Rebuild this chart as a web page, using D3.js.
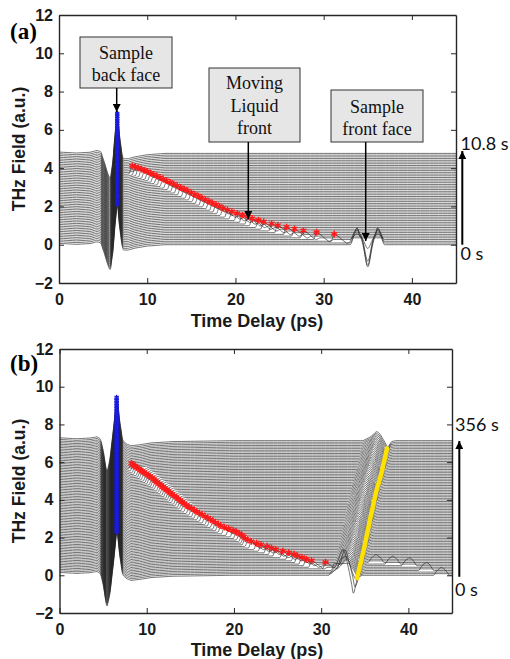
<!DOCTYPE html>
<html>
<head>
<meta charset="utf-8">
<script src="https://cdn.jsdelivr.net/npm/d3@7"></script>
<style>
  body { margin: 0; background: #fff; }
</style>
</head>
<body>
<div id="chart"></div>
<script>
// ---------- values ----------
const xTicks = [0, 10, 20, 30, 40];
const yTicks = [-2, 0, 2, 4, 6, 8, 10, 12];

// panel (a): 54 traces stacked 0.09 a.u. apart
const tracesA = 54;
const stepA = 0.09;
// back-face pulse of one trace, [delay ps, field]
const pulseA = [[0, 0.07], [2, 0.02], [3.5, 0.06], [4.3, 0.15], [4.7, 0.1], [5.1, -0.4], [5.5, -1.0], [5.8, -1.3],
  [6.05, -0.6], [6.35, 1.0], [6.6, 2.1], [6.85, 1.0], [7.1, 0.1], [7.35, -0.28], [7.8, -0.28], [8.6, -0.18],
  [10, -0.07], [12, 0], [45, 0]];
// liquid front echo (relative to the red marker)
const echoShapeA = [[-0.35, 0], [0, 0.38], [0.5, 0.24], [1.0, 0.04], [1.4, -0.1], [1.9, 0]];
// red marker delays, one per trace, starting at trace 2
const echoA = [31.2, 29.2, 27.7, 26.7, 25.8, 24.8, 24.1, 23.2, 22.6, 21.9, 21.4, 20.8, 20.2, 19.6, 19.1, 18.6,
  18.2, 17.8, 17.4, 17.0, 16.6, 16.2, 15.8, 15.4, 15.0, 14.6, 14.2, 13.8, 13.4, 13.0, 12.6, 12.2, 11.8, 11.45,
  11.1, 10.75, 10.4, 10.05, 9.7, 9.35, 9.0, 8.65, 8.3];
const echoStartA = 2;
// sample front face pulse, only on the first traces
const frontA = [[33.0, 0], [33.5, 0.55], [33.8, 0.77], [34.4, 0.1], [35.0, -1.16], [35.6, 0.1], [36.1, 0.77],
  [36.4, 0.55], [36.9, 0]];
const frontWeightA = [1, 1, 0.9, 0.4];

// panel (b): 85 traces stacked 0.085 a.u. apart
const tracesB = 85;
const stepB = 0.085;
const pulseB = [[0, 0.15], [2, 0.1], [3.5, 0.14], [4.3, 0.2], [4.65, 0.1], [5.0, -0.5], [5.47, -1.63], [5.8, -0.9],
  [6.2, 0.7], [6.55, 2.3], [6.95, 0.9], [7.25, 0.05], [7.6, -0.15], [8.2, -0.27], [9.2, -0.22], [10.5, -0.12],
  [13, -0.05], [20, 0], [45, 0]];
const echoShapeB = [[-0.35, 0], [0, 0.35], [0.5, 0.22], [1.0, 0.04], [1.4, -0.09], [1.9, 0]];
// echo delays from trace 1; red markers from trace 4 on
const echoB = [32.6, 32.2, 31.5, 30.5, 28.9, 28.3, 27.8, 27.3, 26.9, 26.3, 25.6, 24.8, 24.3, 23.8, 23.1, 22.6,
  22.0, 21.6, 21.3, 21.1, 20.9, 20.6, 20.3, 19.9, 19.4, 18.9, 18.5, 18.2, 17.9, 17.6, 17.3, 17.0, 16.7, 16.35,
  16.05, 15.75, 15.45, 15.15, 14.85, 14.55, 14.3, 14.05, 13.85, 13.6, 13.4, 13.15, 12.9, 12.7, 12.5, 12.3, 12.05,
  11.85, 11.65, 11.45, 11.2, 11.0, 10.8, 10.6, 10.35, 10.15, 9.95, 9.7, 9.5, 9.3, 9.1, 8.85, 8.65, 8.45, 8.25];
const echoStartB = 1;
const markFromB = 4;
// yellow track (front face minimum), [delay ps, field]
const yellowB = [[34.1, -0.16], [34.6, 0.8], [35.0, 1.6], [35.4, 2.5], [35.76, 3.29], [36.1, 4.0], [36.4, 4.6],
  [36.7, 5.05], [37.0, 5.6], [37.3, 6.2], [37.55, 6.73]];
// front face pulse relative to its minimum
const frontShapeB = [[-2.8, 0], [-2.0, 0.18], [-1.5, 0.38], [-1.2, 0.48], [-0.9, 0.38], [-0.45, 0.05],
  [0, -0.33], [0.5, -0.05], [1.0, 0]];
const frontDipB = [-0.95, -0.65, -0.45]; // deeper minimum on the lowest traces
// small humps on the lowest traces after the front face
const rippleB = [[36.3, 1.08], [38.2, 0.99], [40.1, 0.9], [42.05, 0.64], [43.8, 0.37]];
const rippleShape = [[-0.9, 0], [-0.4, 0.3], [0, 0.42], [0.4, 0.3], [0.9, 0]];

// ---------- drawing ----------
const svg = d3.select("#chart").append("svg")
  .attr("width", 510)
  .attr("height", 659);

const axisColor = "#262626";

function feature(points, shift, weight) {
  const ts = points.map(p => p[0] + shift);
  return {
    ts: ts,
    f: d3.scaleLinear().domain(ts).range(points.map(p => p[1] * weight)).clamp(true)
  };
}

function traceLine(offset, feats) {
  let ts = d3.range(0, 45.001, 0.5);
  feats.forEach(f => { ts = ts.concat(f.ts); });
  ts = Array.from(new Set(ts.filter(t => t >= 0 && t <= 45).map(t => +t.toFixed(4)))).sort((a, b) => a - b);
  return ts.map(t => [t, offset + d3.sum(feats, f => f.f(t))]);
}

function frame(g, x, y) {
  const x0 = x.range()[0], x1 = x.range()[1], y0 = y.range()[0], y1 = y.range()[1];

  const bottom = g.append("g").attr("transform", "translate(0," + y0 + ")")
    .call(d3.axisBottom(x).tickValues(xTicks).tickSize(-5).tickSizeOuter(0).tickPadding(11));
  g.append("g").attr("transform", "translate(0," + y1 + ")")
    .call(d3.axisTop(x).tickValues(xTicks).tickSize(-5).tickSizeOuter(0).tickFormat(""));
  const left = g.append("g").attr("transform", "translate(" + x0 + ",0)")
    .call(d3.axisLeft(y).tickValues(yTicks).tickSize(-5).tickSizeOuter(0).tickPadding(6));
  g.append("g").attr("transform", "translate(" + x1 + ",0)")
    .call(d3.axisRight(y).tickValues(yTicks).tickSize(-5).tickSizeOuter(0).tickFormat(""));

  g.selectAll(".domain").attr("stroke", axisColor).attr("stroke-width", 1.4);
  g.selectAll(".tick line").attr("stroke", axisColor).attr("stroke-width", 1);
  [bottom, left].forEach(a => a
    .attr("font-family", "'Liberation Sans', Arial, sans-serif")
    .attr("font-size", 16)
    .attr("font-weight", "bold")
    .selectAll("text").attr("fill", "#1a1a1a"));
}

function axisTitles(x, y, xLabelY, tag, tagY) {
  svg.append("text")
    .attr("transform", "translate(25," + ((y.range()[0] + y.range()[1]) / 2) + ") rotate(-90)")
    .attr("text-anchor", "middle")
    .attr("font-family", "'Liberation Sans', Arial, sans-serif")
    .attr("font-size", 17.5)
    .attr("font-weight", "bold")
    .attr("fill", "#1a1a1a")
    .text("THz Field (a.u.)");
  svg.append("text")
    .attr("x", 257)
    .attr("y", xLabelY)
    .attr("text-anchor", "middle")
    .attr("font-family", "'Liberation Sans', Arial, sans-serif")
    .attr("font-size", 18)
    .attr("font-weight", "bold")
    .attr("fill", "#1a1a1a")
    .text("Time Delay (ps)");
  svg.append("text")
    .attr("x", 10)
    .attr("y", tagY)
    .attr("font-family", "'Liberation Serif', 'Times New Roman', serif")
    .attr("font-size", 23)
    .attr("font-weight", "bold")
    .text(tag);
}

// arrow head markers
const defs = svg.append("defs");
defs.append("marker")
  .attr("id", "head")
  .attr("viewBox", "0 0 10 10")
  .attr("refX", 10)
  .attr("refY", 5)
  .attr("markerUnits", "userSpaceOnUse")
  .attr("markerWidth", 9)
  .attr("markerHeight", 8)
  .attr("orient", "auto")
  .append("path")
  .attr("d", "M0,0L10,5L0,10Z")
  .attr("fill", "#000");

function arrow(x, yFrom, yTo, w) {
  svg.append("line")
    .attr("x1", x).attr("x2", x)
    .attr("y1", yFrom).attr("y2", yTo)
    .attr("stroke", "#000")
    .attr("stroke-width", w)
    .attr("marker-end", "url(#head)");
}

function sideLabels(xText, topText, topY, botY) {
  [[topText, topY], ["0 s", botY]].forEach(d => {
    svg.append("text")
      .attr("x", xText)
      .attr("y", d[1])
      .attr("font-family", "Lato, 'Open Sans', sans-serif")
      .attr("font-size", 18)
      .attr("fill", "#111")
      .text(d[0]);
  });
}

function note(x0, y0, w, h, lines, lineY) {
  svg.append("rect")
    .attr("x", x0).attr("y", y0)
    .attr("width", w).attr("height", h)
    .attr("fill", "#e6e6e6")
    .attr("stroke", "#333")
    .attr("stroke-width", 1);
  lines.forEach((s, i) => {
    svg.append("text")
      .attr("x", x0 + w / 2)
      .attr("y", lineY[i])
      .attr("text-anchor", "middle")
      .attr("font-family", "'Liberation Serif', 'Times New Roman', serif")
      .attr("font-size", 18)
      .attr("fill", "#111")
      .text(s);
  });
}

const star = d3.symbol().type(d3.symbolAsterisk);

function panel(id, x, y, nTraces, step, pulse, echoShape, echoes, echoStart, markFrom, extra) {
  defs.append("clipPath").attr("id", id)
    .append("rect")
    .attr("x", x.range()[0]).attr("y", y.range()[1])
    .attr("width", x.range()[1] - x.range()[0])
    .attr("height", y.range()[0] - y.range()[1]);

  const g = svg.append("g");
  const plot = g.append("g").attr("clip-path", "url(#" + id + ")");

  const line = d3.line()
    .x(d => x(d[0]))
    .y(d => y(d[1]))
    .curve(d3.curveMonotoneX);

  const traces = [];
  const reds = [];
  const blues = [];
  const peak = d3.greatest(pulse, p => p[1]);

  for (let i = 0; i < nTraces; i++) {
    const off = i * step;
    const feats = [feature(pulse, 0, 1)];
    const e = echoes[i - echoStart];
    let echoFeat = null;
    if (e !== undefined) {
      echoFeat = feature(echoShape, e, 1);
      feats.push(echoFeat);
    }
    extra(i, off, feats);
    const pts = traceLine(off, feats);
    traces.push(pts);
    blues.push([peak[0], off + d3.sum(feats, f => f.f(peak[0]))]);
    if (echoFeat && i >= markFrom) {
      reds.push([e, off + d3.sum(feats, f => f.f(e))]);
    }
  }

  plot.selectAll(".trace")
    .data(traces)
    .join("path")
    .attr("class", "trace")
    .attr("fill", "none")
    .attr("stroke", "#262626")
    .attr("stroke-width", 0.65)
    .attr("d", line);

  plot.selectAll(".blue")
    .data(blues)
    .join("path")
    .attr("class", "blue")
    .attr("transform", d => "translate(" + x(d[0]) + "," + y(d[1]) + ")")
    .attr("d", star.size(16)())
    .attr("fill", "none")
    .attr("stroke", "#1a1ae0")
    .attr("stroke-width", 1.3);

  plot.selectAll(".red")
    .data(reds)
    .join("path")
    .attr("class", "red")
    .attr("transform", d => "translate(" + x(d[0]) + "," + y(d[1]) + ")")
    .attr("d", star.size(32)())
    .attr("fill", "none")
    .attr("stroke", "#ff1a1a")
    .attr("stroke-width", 1.5);

  frame(g, x, y);
  return { plot: plot, line: line };
}

// ----- panel (a) -----
const xA = d3.scaleLinear().domain([0, 45]).range([59, 456]);
const yA = d3.scaleLinear().domain([-2, 12]).range([283, 15]);

panel("clipA", xA, yA, tracesA, stepA, pulseA, echoShapeA, echoA, echoStartA, echoStartA, (i, off, feats) => {
  if (i < frontWeightA.length) feats.push(feature(frontA, 0, frontWeightA[i]));
});

axisTitles(xA, yA, 327, "(a)", 39);
note(80, 37, 92, 51, ["Sample", "back face"], [58.5, 81]);
note(209, 68, 91, 74, ["Moving", "Liquid", "front"], [89, 112, 134]);
note(331, 90, 92, 52, ["Sample", "front face"], [113, 135]);
arrow(116.7, 88, 112, 1.5);
arrow(248.3, 142, 219, 1.5);
arrow(365.7, 142, 241, 1.5);
arrow(462.3, yA(0), 151, 2);
sideLabels(460.5, "10.8 s", 149.5, 259.5);

// ----- panel (b) -----
const xB = d3.scaleLinear().domain([0, 45]).range([59.5, 452]);
const yB = d3.scaleLinear().domain([-2, 12]).range([613, 349]);

// delay of the front-face minimum for a given field level, along the yellow track
const yellowScale = d3.scaleLinear().domain(yellowB.map(p => p[1])).range(yellowB.map(p => p[0]));
const dipDepth = d3.min(frontShapeB, p => p[1]);

const pb = panel("clipB", xB, yB, tracesB, stepB, pulseB, echoShapeB, echoB, echoStartB, markFromB, (i, off, feats) => {
  const depth = i < frontDipB.length ? frontDipB[i] : dipDepth;
  feats.push(feature(frontShapeB, yellowScale(off + depth), depth / dipDepth));
  rippleB.forEach(r => {
    const k = Math.max(0, Math.round((r[1] - 0.42) / stepB));
    if (k === i) feats.push(feature(rippleShape, r[0], 1));
  });
});

pb.plot.append("path")
  .datum(yellowB)
  .attr("fill", "none")
  .attr("stroke", "#ffe100")
  .attr("stroke-width", 4.5)
  .attr("stroke-linecap", "round")
  .attr("stroke-linejoin", "round")
  .attr("d", pb.line);

axisTitles(xB, yB, 656, "(b)", 371);
arrow(459.3, yB(0) + 1.5, 441, 2);
sideLabels(455, "356 s", 431, 596);
</script>
</body>
</html>
